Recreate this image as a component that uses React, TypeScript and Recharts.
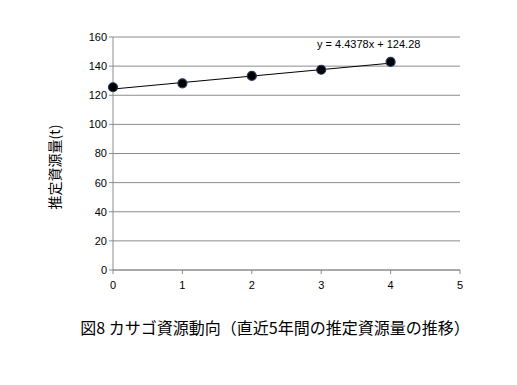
import React from 'react';
import {
  ScatterChart,
  Scatter,
  XAxis,
  YAxis,
  CartesianGrid,
  ReferenceLine,
} from 'recharts';

const years = [0, 1, 2, 3, 4];
const stock = [125.5, 128.2, 133.3, 137.5, 142.9];
const xTicks = [0, 1, 2, 3, 4, 5];
const yTicks = [0, 20, 40, 60, 80, 100, 120, 140, 160];
// trendline endpoints from the fitted equation shown on the chart
const trendLabel = 'y = 4.4378x + 124.28';
const trendFrom = { x: 0, y: 124.28 };
const trendTo = { x: 4, y: 142.03 };

const chartData = years.map((x, i) => ({ x, y: stock[i] }));

const font = '"Liberation Sans", Arial, sans-serif';
const cjk = '"Noto Sans CJK JP", sans-serif';

export default function App() {
  return (
    <div style={{ position: 'absolute', left: 0, top: 0, width: 517, height: 385, background: '#fff' }}>
      <ScatterChart
        width={517}
        height={385}
        margin={{ top: 37, right: 57, bottom: 95, left: 73 }}
      >
        <CartesianGrid vertical={false} stroke="#8c8c8c" strokeWidth={1} />
        <XAxis
          type="number"
          dataKey="x"
          domain={[0, 5]}
          ticks={xTicks}
          interval={0}
          height={20}
          stroke="#8c8c8c"
          tickSize={4}
          tick={{ fill: '#000', fontSize: 11, fontFamily: font, dy: 5 }}
        />
        <YAxis
          type="number"
          dataKey="y"
          domain={[0, 160]}
          ticks={yTicks}
          interval={0}
          width={40}
          stroke="#8c8c8c"
          tickSize={4}
          tick={{ fill: '#000', fontSize: 11, fontFamily: font }}
        />
        <ReferenceLine
          segment={[trendFrom, trendTo]}
          stroke="#000"
          strokeWidth={1}
          ifOverflow="visible"
        />
        <Scatter
          data={chartData}
          isAnimationActive={false}
          shape={(p: any) => (
            <circle cx={p.cx} cy={p.cy} r={4.5} fill="#000" stroke="#1f3a60" strokeWidth={1.2} />
          )}
        />
        <text x={317} y={48} fontSize={11} fontFamily={font} fill="#000">
          {trendLabel}
        </text>
        <text
          x={56}
          y={167}
          fontSize={14}
          fontFamily={cjk}
          fill="#000"
          textAnchor="middle"
          dominantBaseline="middle"
          transform="rotate(-90 56 167)"
        >
          推定資源量(t)
        </text>
        <text x={275} y={334} fontSize={16} fontFamily={cjk} fill="#000" textAnchor="middle">
          図8 カサゴ資源動向（直近5年間の推定資源量の推移）
        </text>
      </ScatterChart>
    </div>
  );
}
